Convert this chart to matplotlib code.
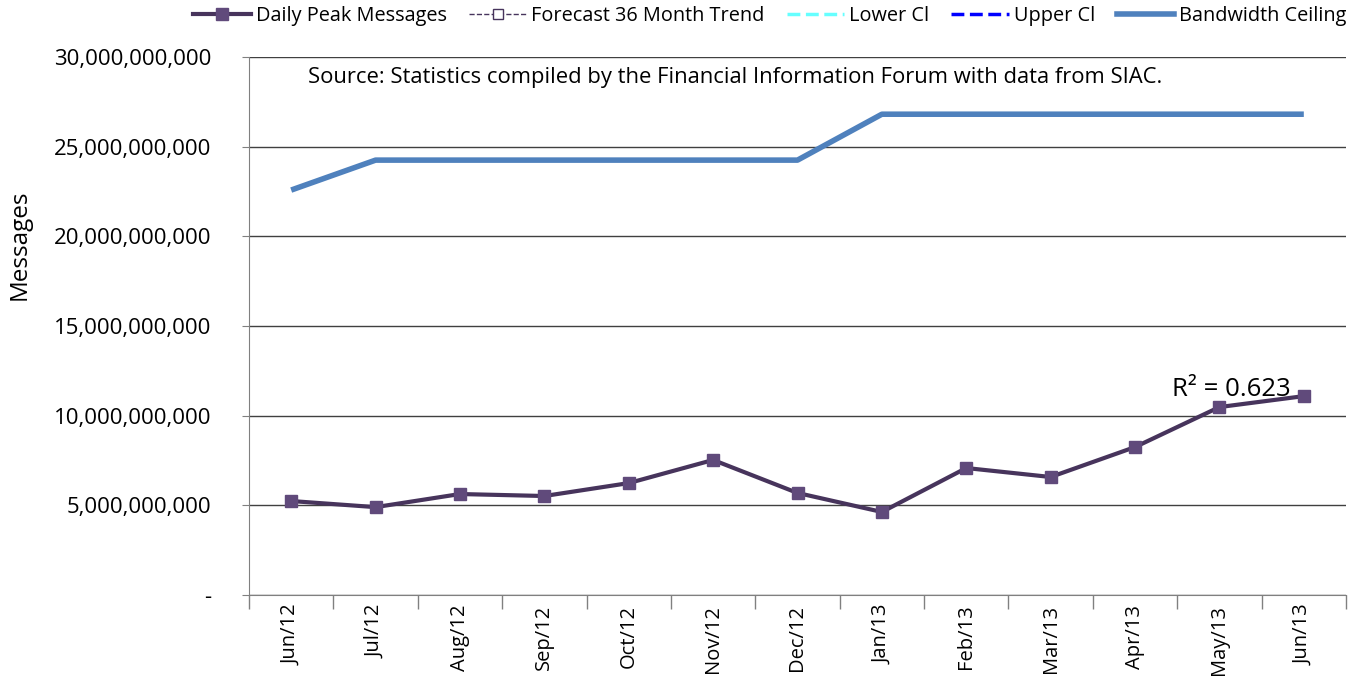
import matplotlib
matplotlib.use("Agg")
import matplotlib.pyplot as plt
from matplotlib.lines import Line2D
from matplotlib.ticker import FuncFormatter, FixedLocator

months = ["Jun/12", "Jul/12", "Aug/12", "Sep/12", "Oct/12", "Nov/12", "Dec/12",
          "Jan/13", "Feb/13", "Mar/13", "Apr/13", "May/13", "Jun/13"]
daily_peak = [5.24e9, 4.90e9, 5.63e9, 5.52e9, 6.24e9, 7.53e9, 5.69e9,
              4.63e9, 7.08e9, 6.58e9, 8.25e9, 10.48e9, 11.09e9]
bandwidth = [22.58e9, 24.25e9, 24.25e9, 24.25e9, 24.25e9, 24.25e9, 24.25e9,
             26.81e9, 26.81e9, 26.81e9, 26.81e9, 26.81e9, 26.81e9]
y_ticks = [0, 5e9, 10e9, 15e9, 20e9, 25e9, 30e9]
r2_text = "R² = 0.623"
source_text = "Source: Statistics compiled by the Financial Information Forum with data from SIAC."

plt.rcParams['font.family'] = ['Open Sans', 'DejaVu Sans']

fig = plt.figure(figsize=(13.51, 6.95), dpi=100)
ax = fig.add_axes([249/1351, 1 - 595/695, (1346-249)/1351, (595-57)/695])

x = list(range(len(months)))
ax.plot(x, bandwidth, color="#4F81BD", lw=4, solid_capstyle="butt", zorder=3)
ax.plot(x, daily_peak, color="#47345C", lw=3, marker="s", markersize=9,
        markerfacecolor="#604A7B", markeredgecolor="#604A7B", zorder=4)

ax.set_xlim(-0.5, len(months) - 0.5)
ax.set_ylim(0, 30e9)
ax.yaxis.set_major_locator(FixedLocator(y_ticks))
ax.yaxis.set_major_formatter(FuncFormatter(lambda v, p: "-" if v == 0 else f"{v:,.0f}"))
ax.grid(axis="y", color="#404040", lw=1)
ax.set_axisbelow(True)

ax.set_xticks(x)
ax.set_xticklabels(months, rotation=90, fontsize=14.5)
ax.tick_params(axis="x", length=0, pad=7)
ax.set_xticks([i - 0.5 for i in range(len(months) + 1)], minor=True)
ax.tick_params(axis="x", which="minor", length=10, color="#808080", width=1)
ax.tick_params(axis="y", labelsize=16, length=5, color="#808080", pad=22)

for s in ["top", "right"]:
    ax.spines[s].set_visible(False)
ax.spines["left"].set_color("#808080")
ax.spines["bottom"].set_color("#808080")

fig.text(20/1351, 1 - 245/695, "Messages", rotation=90, fontsize=17.5, ha="center", va="center")
ax.text(308/1351, 1 - 77/695, source_text, transform=fig.transFigure, fontsize=15.8, va="center", ha="left")
ax.text(1172/1351, 1 - 390/695, r2_text, transform=fig.transFigure, fontsize=18.5, va="center", ha="left", zorder=5)

handles = [
    Line2D([], [], color="#47345C", lw=3, marker="s", markersize=9,
           markerfacecolor="#604A7B", markeredgecolor="#604A7B"),
    Line2D([], [], color="#47345C", lw=1, ls="--", marker="s", markersize=7,
           markerfacecolor="white", markeredgecolor="#47345C"),
    Line2D([], [], color="#66FFFF", lw=2.5, ls="--"),
    Line2D([], [], color="#0000FF", lw=2.5, ls="--"),
    Line2D([], [], color="#4F81BD", lw=4),
]
labels = ["Daily Peak Messages", "Forecast 36 Month Trend", "Lower Cl", "Upper Cl", "Bandwidth Ceiling"]
fig.legend(handles, labels, loc="center", bbox_to_anchor=(770/1351, 1 - 16/695), ncol=5,
           frameon=False, fontsize=14.3, handlelength=2.9, columnspacing=1.1, handletextpad=0.25,
           borderpad=0.1)

fig.savefig("out.png", dpi=100)
